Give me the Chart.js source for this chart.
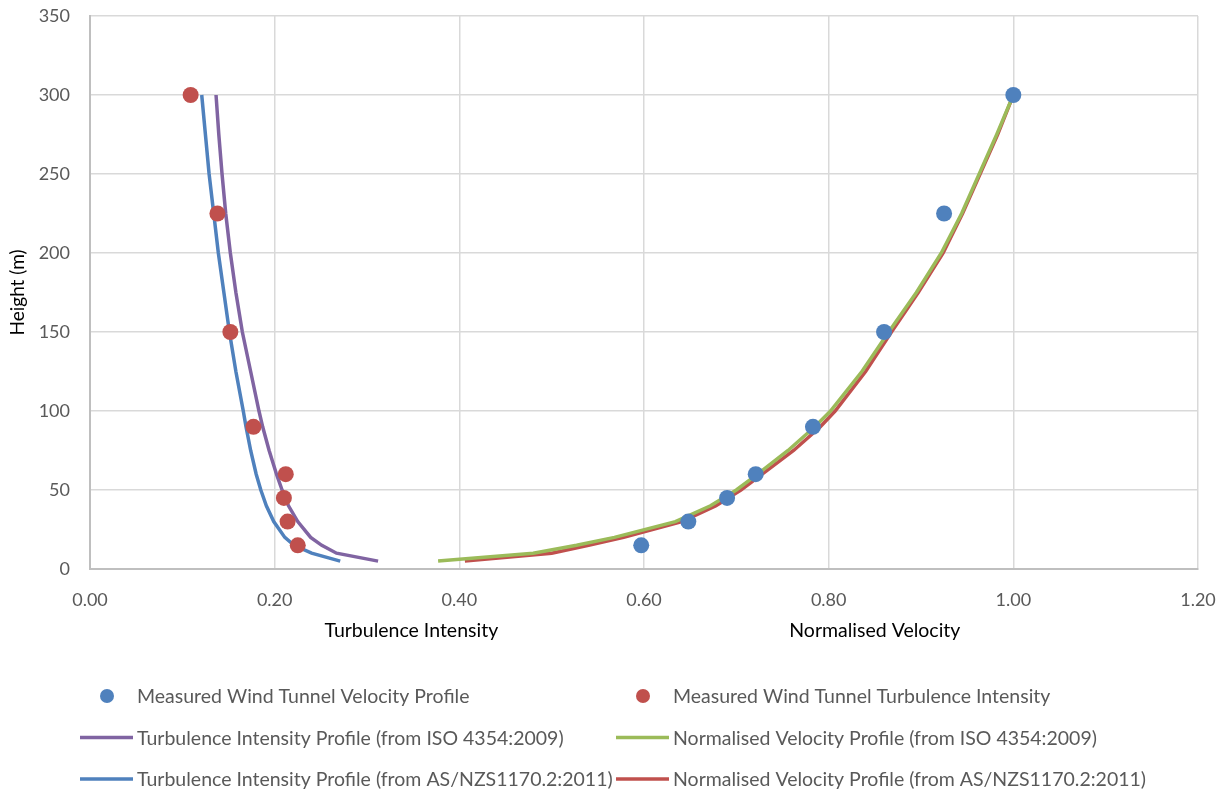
<!DOCTYPE html>
<html>
<head>
<meta charset="utf-8">
<script src="https://cdn.jsdelivr.net/npm/chart.js@4.4.1/dist/chart.umd.min.js"></script>
<style>
    body { margin: 0; background: #fff; }
    #wrap { width: 1228px; height: 794px; position: relative; }
</style>
</head>
<body>
<div id="wrap"><canvas id="myChart"></canvas></div>
<script>
// measured wind tunnel data
const measuredHeights = [300, 225, 150, 90, 60, 45, 30, 15];
const measuredVelocity = [1.0, 0.925, 0.860, 0.783, 0.721, 0.690, 0.648, 0.597];
const measuredTurbulence = [0.109, 0.138, 0.152, 0.177, 0.212, 0.210, 0.214, 0.225];

// code profiles (all on the same heights)
const profileHeights = [5, 10, 15, 20, 30, 40, 50, 60, 75, 90, 100, 125, 150, 175, 200, 225, 250, 275, 300];
const tiIso = [0.312, 0.267, 0.251, 0.239, 0.225, 0.215, 0.208, 0.202, 0.194, 0.187, 0.183, 0.174, 0.165, 0.158, 0.152, 0.147, 0.143, 0.1395, 0.1365];
const velIso = [0.377, 0.480, 0.527, 0.568, 0.634, 0.672, 0.700, 0.723, 0.756, 0.785, 0.802, 0.836, 0.865, 0.895, 0.922, 0.944, 0.963, 0.982, 1.0];
const tiAs = [0.271, 0.240, 0.221, 0.211, 0.199, 0.191, 0.185, 0.180, 0.174, 0.169, 0.166, 0.158, 0.151, 0.145, 0.139, 0.134, 0.129, 0.125, 0.121];
const velAs = [0.406, 0.500, 0.540, 0.578, 0.641, 0.678, 0.705, 0.728, 0.762, 0.791, 0.807, 0.840, 0.868, 0.897, 0.924, 0.945, 0.964, 0.983, 1.0];

const xTicks = [0, 0.2, 0.4, 0.6, 0.8, 1.0, 1.2];
const yTicks = [0, 50, 100, 150, 200, 250, 300, 350];
const xTitles = [
    { text: 'Turbulence Intensity', at: 0.348 },
    { text: 'Normalised Velocity', at: 0.850 }
];

const FONT = 'Lato, "Open Sans", sans-serif';

function pairs(xs, ys) {
    return xs.map((x, i) => ({ x: x, y: ys[i] }));
}

function lineSet(label, xs, color) {
    return {
        label: label,
        data: pairs(xs, profileHeights),
        showLine: true,
        borderColor: color,
        backgroundColor: color,
        borderWidth: 3.5,
        pointRadius: 0,
        tension: 0,
        order: 2
    };
}

// tick padding is otherwise added to the label overhang around the plot
function noOverhang(scale) {
    scale.paddingTop = 0;
    scale.paddingBottom = 0;
    scale.paddingLeft = 0;
    scale.paddingRight = 0;
}

// draws the two axis titles under the x axis
const xTitlePlugin = {
    id: 'xTitles',
    afterDraw(chart) {
        const ctx = chart.ctx;
        const sx = chart.scales.x;
        ctx.save();
        ctx.font = '19.5px ' + FONT;
        ctx.fillStyle = '#000';
        ctx.textAlign = 'center';
        ctx.textBaseline = 'middle';
        xTitles.forEach(t => ctx.fillText(t.text, sx.getPixelForValue(t.at), 631));
        ctx.restore();
    }
};

// legend laid out in two columns like the spreadsheet one
const legendPlugin = {
    id: 'sheetLegend',
    afterDraw(chart) {
        const ctx = chart.ctx;
        ctx.save();
        ctx.font = '19.5px ' + FONT;
        ctx.textBaseline = 'middle';
        ctx.textAlign = 'left';
        chart.data.datasets.forEach((ds, i) => {
            const col = i % 2;
            const row = Math.floor(i / 2);
            const x0 = col === 0 ? 80 : 616;
            const y = 696 + row * 41.5;
            if (ds.showLine) {
                ctx.strokeStyle = ds.borderColor;
                ctx.lineWidth = 3.5;
                ctx.beginPath();
                ctx.moveTo(x0, y);
                ctx.lineTo(x0 + 53, y);
                ctx.stroke();
            } else {
                ctx.fillStyle = ds.backgroundColor;
                ctx.beginPath();
                ctx.arc(x0 + 27, y, 7, 0, Math.PI * 2);
                ctx.fill();
            }
            ctx.fillStyle = '#595959';
            ctx.fillText(ds.label, x0 + 57, y + 1);
        });
        ctx.restore();
    }
};

const ctx = document.getElementById('myChart');

new Chart(ctx, {
    type: 'scatter',
    data: {
        datasets: [
            {
                label: 'Measured Wind Tunnel Velocity Profile',
                data: pairs(measuredVelocity, measuredHeights),
                backgroundColor: '#4f81bd',
                borderColor: '#4f81bd',
                pointRadius: 8,
                borderWidth: 0,
                order: 0
            },
            {
                label: 'Measured Wind Tunnel Turbulence Intensity',
                data: pairs(measuredTurbulence, measuredHeights),
                backgroundColor: '#c0504d',
                borderColor: '#c0504d',
                pointRadius: 8,
                borderWidth: 0,
                order: 0
            },
            lineSet('Turbulence Intensity Profile (from ISO 4354:2009)', tiIso, '#8064a2'),
            lineSet('Normalised Velocity Profile (from ISO 4354:2009)', velIso, '#9bbb59'),
            lineSet('Turbulence Intensity Profile (from AS/NZS1170.2:2011)', tiAs, '#4f81bd'),
            lineSet('Normalised Velocity Profile (from AS/NZS1170.2:2011)', velAs, '#c0504d')
        ]
    },
    options: {
        responsive: true,
        maintainAspectRatio: false,
        animation: false,
        layout: { padding: { top: 16, right: 30, bottom: 0, left: 0 } },
        plugins: {
            legend: { display: false },
            tooltip: { enabled: false }
        },
        scales: {
            x: {
                type: 'linear',
                min: 0,
                max: 1.2,
                afterBuildTicks: (scale) => { scale.ticks = xTicks.map(v => ({ value: v })); },
                afterFit: (scale) => { scale.height = 225; noOverhang(scale); },
                ticks: {
                    padding: 20,
                    color: '#595959',
                    font: { family: FONT, size: 18 },
                    callback: (v) => v.toFixed(2)
                },
                grid: { color: '#d9d9d9', lineWidth: 1.5, drawTicks: false },
                border: { color: '#bfbfbf', width: 2 }
            },
            y: {
                type: 'linear',
                min: 0,
                max: 350,
                afterBuildTicks: (scale) => { scale.ticks = yTicks.map(v => ({ value: v })); },
                afterFit: (scale) => { scale.width = 90; noOverhang(scale); },
                ticks: {
                    padding: 20,
                    color: '#595959',
                    font: { family: FONT, size: 18 }
                },
                title: {
                    display: true,
                    text: 'Height (m)',
                    color: '#000',
                    font: { family: FONT, size: 19 },
                    padding: { top: 6, bottom: 0 }
                },
                grid: { color: '#d9d9d9', lineWidth: 1.5, drawTicks: false },
                border: { color: '#bfbfbf', width: 2 }
            }
        }
    },
    plugins: [xTitlePlugin, legendPlugin]
});
</script>
</body>
</html>
